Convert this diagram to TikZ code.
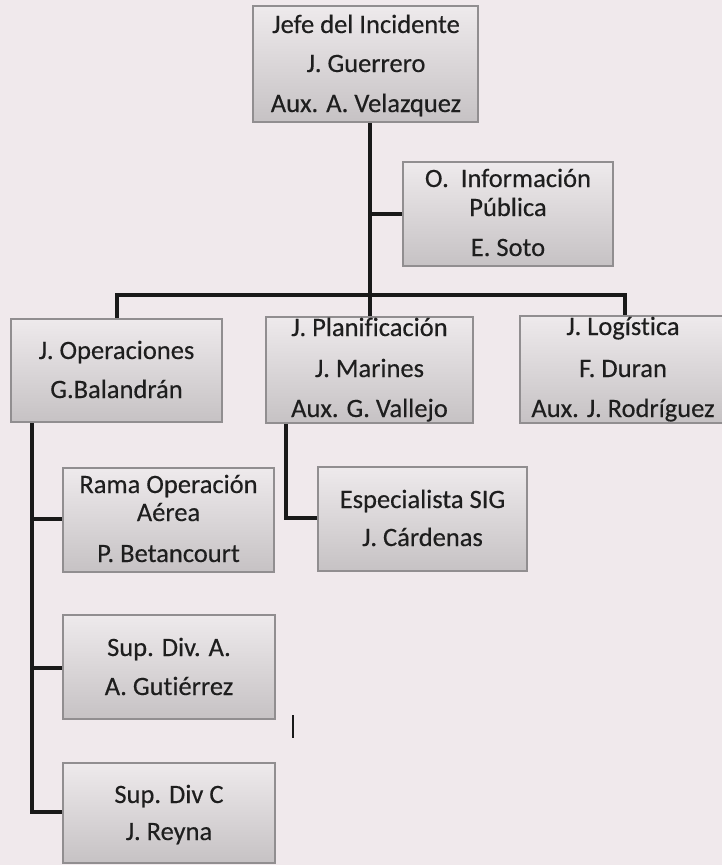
\documentclass[tikz,border=0pt]{standalone}
\usepackage{fontspec}
\setmainfont{Carlito}[Ligatures=NoCommon, FakeBold=0.35]
\definecolor{bgcol}{RGB}{240,233,236}
\definecolor{boxtop}{RGB}{238,234,236}
\definecolor{boxbot}{RGB}{198,194,196}
\definecolor{boxline}{RGB}{145,142,144}
\definecolor{txtcol}{RGB}{30,30,30}
\definecolor{linecol}{RGB}{25,25,25}
\begin{document}
\begin{tikzpicture}[x=1pt,y=-1pt,
  box/.style={rectangle, draw=boxline, line width=1.2pt, top color=boxtop, bottom color=boxbot, inner sep=0pt},
  txt/.style={anchor=base, inner sep=0pt, text=txtcol, font=\fontsize{26.5}{30}\selectfont},
  conn/.style={draw=linecol, line width=3.4pt}]
\useasboundingbox (0,0) rectangle (722,865);
\fill[bgcol] (0,0) rectangle (722,865);
\clip (0,0) rectangle (722,865);

% coordinates for connector routing
\coordinate (jtop) at (370,120);
\coordinate (jv) at (370,295);
\coordinate (bl) at (117,295);
\coordinate (br) at (625,295);
\coordinate (ma) at (293,715);
\coordinate (mb) at (293,738);

% connectors (drawn first, boxes cover ends)
\draw[conn] (jtop) -- (jv) -- (370,318);
\draw[conn] (370,214) -- (405,214);
\draw[conn] (117,320) -- (bl) -- (br) -- (625,318);
\draw[conn] (32,421) |- (65,812);
\draw[conn] (32,519) -- (65,519);
\draw[conn] (32,668) -- (65,668);
\draw[conn] (286,422) |- (320,518);
\draw[draw=linecol, line width=1.8pt] (ma) -- (mb);

% boxes
\node[box, minimum width=225pt, minimum height=116pt] (top) at (365.5,64) {};
\node[box, minimum width=210pt, minimum height=104pt] (info) at (508,214) {};
\node[box, minimum width=211pt, minimum height=103pt] (ops) at (116.5,370.5) {};
\node[box, minimum width=207pt, minimum height=106pt] (plan) at (369.5,370) {};
\node[box, minimum width=208pt, minimum height=107pt] (log) at (624,369.5) {};
\node[box, minimum width=211pt, minimum height=104pt] (rama) at (168.5,520) {};
\node[box, minimum width=209pt, minimum height=104pt] (sig) at (422.5,519) {};
\node[box, minimum width=212pt, minimum height=104pt] (supa) at (169,667) {};
\node[box, minimum width=212pt, minimum height=100pt] (supc) at (169,813) {};

% texts
\node[txt] (t1) at (366,33) {Jefe del Incidente};
\node[txt] (t2) at (366,72) {J. Guerrero};
\node[txt] (t3) at (366,112) {Aux. A. Velazquez};

\node[txt] (i1) at (508,187) {O.\ \ Información};
\node[txt] (i2) at (508,216) {Pública};
\node[txt] (i3) at (508,256) {E. Soto};

\node[txt] (o1) at (116.5,359) {J. Operaciones};
\node[txt] (o2) at (116.5,398) {G.Balandrán};

\node[txt] (p1) at (369.5,336) {J. Planificación};
\node[txt] (p2) at (369.5,377) {J. Marines};
\node[txt] (p3) at (369.5,417) {Aux. G. Vallejo};

\node[txt] (l1) at (623,335) {J. Logística};
\node[txt] (l2) at (623,377) {F. Duran};
\node[txt] (l3) at (623,417) {Aux. J. Rodríguez};

\node[txt] (r1) at (168.5,493) {Rama Operación};
\node[txt] (r2) at (168.5,521) {Aérea};
\node[txt] (r3) at (168.5,562) {P. Betancourt};

\node[txt] (s1) at (422.5,508) {Especialista SIG};
\node[txt] (s2) at (422.5,546) {J. Cárdenas};

\node[txt] (a1) at (169,656) {Sup. Div. A.};
\node[txt] (a2) at (169,695) {A. Gutiérrez};

\node[txt] (c1) at (169,803) {Sup. Div C};
\node[txt] (c2) at (169,840) {J. Reyna};
\end{tikzpicture}
\end{document}
